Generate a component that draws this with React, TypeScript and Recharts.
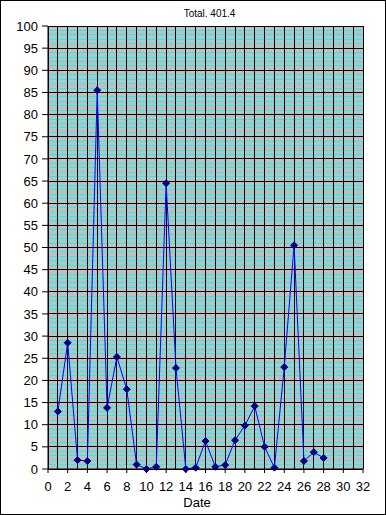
import React from 'react';
import { LineChart, Line, XAxis, YAxis, CartesianGrid } from 'recharts';

const days = [1, 2, 3, 4, 5, 6, 7, 8, 9, 10, 11, 12, 13, 14, 15, 16, 17, 18, 19, 20, 21, 22, 23, 24, 25, 26, 27, 28];
const values = [13, 28.5, 2, 1.8, 85.5, 13.8, 25.3, 18, 1, 0, 0.5, 64.5, 22.8, 0, 0.3, 6.3, 0.5, 0.9, 6.5, 9.8, 14.2, 5, 0.3, 23, 50.5, 1.8, 3.8, 2.5];
const xTicks = [0, 2, 4, 6, 8, 10, 12, 14, 16, 18, 20, 22, 24, 26, 28, 30, 32];
const yTicks = [0, 5, 10, 15, 20, 25, 30, 35, 40, 45, 50, 55, 60, 65, 70, 75, 80, 85, 90, 95, 100];
const xGrid = Array.from({ length: 33 }, (_, i) => i);
const yMinor = Array.from({ length: 101 }, (_, i) => i).filter((v) => v % 5 !== 0);

const data = days.map((d, i) => ({ day: d, value: values[i] }));

const font = '"Liberation Sans", Arial, sans-serif';

const Diamond = (props: any) => {
  const { cx, cy } = props;
  if (cx == null || cy == null) return null;
  const r = 3.5;
  return (
    <polygon
      points={`${cx},${cy - r} ${cx + r},${cy} ${cx},${cy + r} ${cx - r},${cy}`}
      fill="#000080"
      stroke="#000080"
      strokeWidth={1}
    />
  );
};

export default function App() {
  return (
    <div style={{ position: 'absolute', top: 0, left: 0, width: 386, height: 515, background: '#fff', fontFamily: font }}>
      <LineChart width={386} height={515} data={data} margin={{ top: 26, right: 23, bottom: 16, left: 0 }}>
        <CartesianGrid
          fill="#c0c0c0"
          fillOpacity={1}
          vertical={false}
          horizontalValues={yMinor}
          stroke="#00ffff"
          strokeWidth={1}
          shapeRendering="crispEdges"
        />
        <CartesianGrid
          horizontalValues={yTicks}
          verticalValues={xGrid}
          stroke="#000000"
          strokeWidth={1}
          shapeRendering="crispEdges"
        />
        <XAxis
          dataKey="day"
          type="number"
          domain={[0, 32]}
          ticks={xTicks}
          interval={0}
          height={30}
          tickSize={4}
          tickMargin={9}
          axisLine={{ stroke: '#000' }}
          tickLine={{ stroke: '#000' }}
          tick={{ fill: '#000', fontSize: 13, fontFamily: font }}
        />
        <YAxis
          type="number"
          domain={[0, 100]}
          ticks={yTicks}
          interval={0}
          width={48}
          tickSize={6}
          tickMargin={4}
          axisLine={{ stroke: '#000' }}
          tickLine={{ stroke: '#000' }}
          tick={{ fill: '#000', fontSize: 13, fontFamily: font }}
        />
        <Line
          type="linear"
          dataKey="value"
          stroke="#0000ff"
          strokeWidth={1}
          dot={<Diamond />}
          activeDot={false}
          isAnimationActive={false}
        />
      </LineChart>
      <div style={{ position: 'absolute', top: 8, left: 0, width: 419, textAlign: 'center', fontSize: 10, color: '#000' }}>
        Total. 401.4
      </div>
      <div style={{ position: 'absolute', top: 495, left: 0, width: 394, textAlign: 'center', fontSize: 13, color: '#000' }}>
        Date
      </div>
      <div style={{ position: 'absolute', top: 0, left: 0, width: 386, height: 515, border: '1px solid #000', boxSizing: 'border-box', pointerEvents: 'none' }} />
    </div>
  );
}
